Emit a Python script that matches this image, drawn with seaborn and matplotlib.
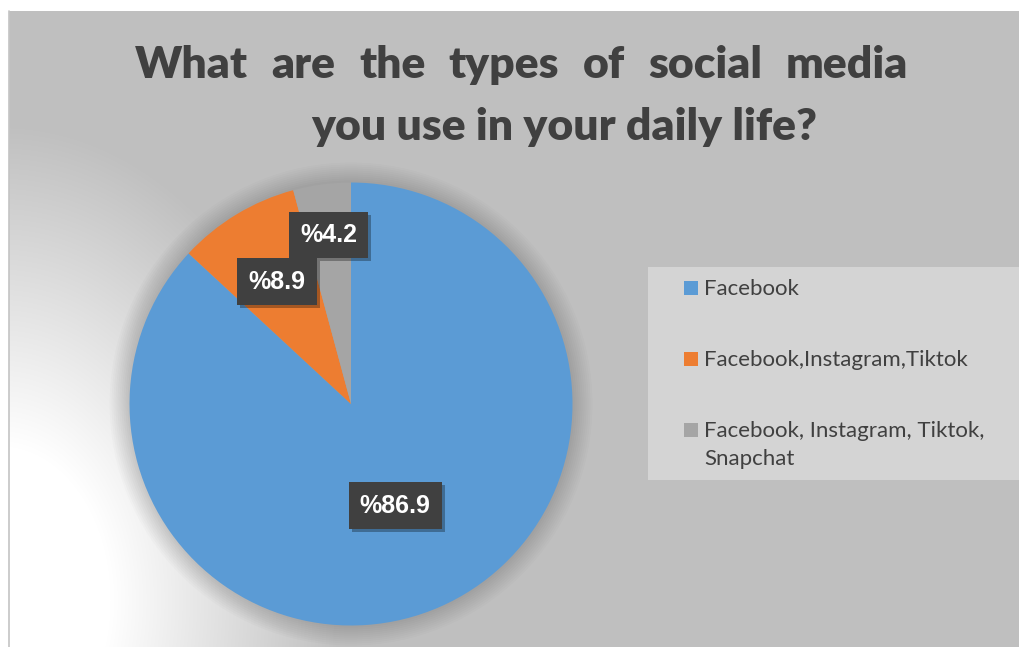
import numpy as np
import matplotlib
matplotlib.use("Agg")
import matplotlib.pyplot as plt
from matplotlib.patches import Circle, Rectangle
import seaborn as sns

# Data
categories = ["Facebook", "Facebook,Instagram,Tiktok", "Facebook, Instagram, Tiktok,\nSnapchat"]
values = [86.9, 8.9, 4.2]
pct_labels = ["%86.9", "%8.9", "%4.2"]
colors = ["#5B9BD5", "#ED7D31", "#A5A5A5"]
title1 = "What are the types of social media"
title2 = "you use in your daily life?"

sns.set_theme(style="white")
plt.rcParams["font.family"] = ["Lato", "DejaVu Sans"]

W, H = 1019, 647
fig = plt.figure(figsize=(W / 100, H / 100), dpi=100)

# background with soft radial light in the lower left
bg = fig.add_axes([0, 0, 1, 1], zorder=-2)
yy, xx = np.mgrid[0:H, 0:W]
d = np.hypot(xx, (yy - 600) / 1.4)
v = 0.75 + 0.25 * np.clip((340 - d) / 230, 0, 1)
v[yy < 11] = 1
v[:, :9] = 1
bg.imshow(np.dstack([v, v, v]), extent=[0, W, H, 0], aspect="auto")
bg.plot([9.5, 9.5], [11, H], color="#c4c4c4", lw=1.2)
bg.set_xlim(0, W)
bg.set_ylim(H, 0)
bg.axis("off")

# pie
R, L = 221.5, 1.3
cx, cy = 351, 404
ax = fig.add_axes([(cx - L * R) / W, (H - cy - L * R) / H, 2 * L * R / W, 2 * L * R / H])
for i in range(10):
    ax.add_patch(Circle((0, 0), 1 + 0.009 * (i + 1), color="black", alpha=0.014, lw=0, zorder=0))
ax.pie(values, colors=colors, startangle=90, counterclock=False, radius=1,
       wedgeprops=dict(linewidth=0))
ax.set_xlim(-L, L)
ax.set_ylim(-L, L)
ax.axis("off")

# data labels
label_r = [0.50, 0.646, 0.77]
total = sum(values)
cum = 0
labels = []
for val, lab, r in zip(values, pct_labels, label_r):
    ang = np.deg2rad(90 - 360 * (cum + val / 2) / total)
    cum += val
    t = ax.text(r * np.cos(ang), r * np.sin(ang), lab, color="white", ha="center", va="center",
                fontsize=18, fontweight="bold", family=["Liberation Sans", "DejaVu Sans"],
                zorder=5,
                bbox=dict(boxstyle="square,pad=0.45", fc="#404040", ec="none"))
    labels.append(t)

renderer = fig.canvas.get_renderer()
fig.canvas.draw()
# drop shadows behind the label boxes
for t in labels:
    bb = t.get_bbox_patch().get_window_extent(renderer)
    ax.add_patch(Rectangle(((bb.x0 + 3) / W, (bb.y0 - 3) / H), bb.width / W, bb.height / H,
                           transform=fig.transFigure, fc=(0, 0, 0, 0.3), ec="none", zorder=4))

# legend
legend_kw = dict(fontsize=16, color="#404040")
fig.add_artist(Rectangle((648 / W, (H - 480) / H), (W - 648) / W, 213 / H,
                         transform=fig.transFigure, fc="#d4d4d4", ec="none"))
for i, (cat, c) in enumerate(zip(categories, colors)):
    base = 295 + 71 * i
    fig.add_artist(Rectangle((684 / W, (H - base) / H), 14 / W, 14 / H,
                             transform=fig.transFigure, fc=c, ec="none"))
    for j, line in enumerate(cat.split("\n")):
        fig.text(704 / W, 1 - (base + 28 * j) / H, line, va="baseline", ha="left", **legend_kw)

# title, first line justified
tkw = dict(fontsize=32, fontweight="heavy", color="#404040")
words = title1.split()
texts = [fig.text(0, 1 - 78 / H, w, va="baseline", ha="left", **tkw) for w in words]
widths = [t.get_window_extent(renderer).width for t in texts]
gap = (908 - 135 - sum(widths)) / (len(words) - 1)
xpos = 135
for t, w in zip(texts, widths):
    t.set_x(xpos / W)
    xpos += w + gap
fig.text(564 / W, 1 - 140 / H, title2, ha="center", va="baseline", **tkw)

fig.savefig("out.png", dpi=100)
